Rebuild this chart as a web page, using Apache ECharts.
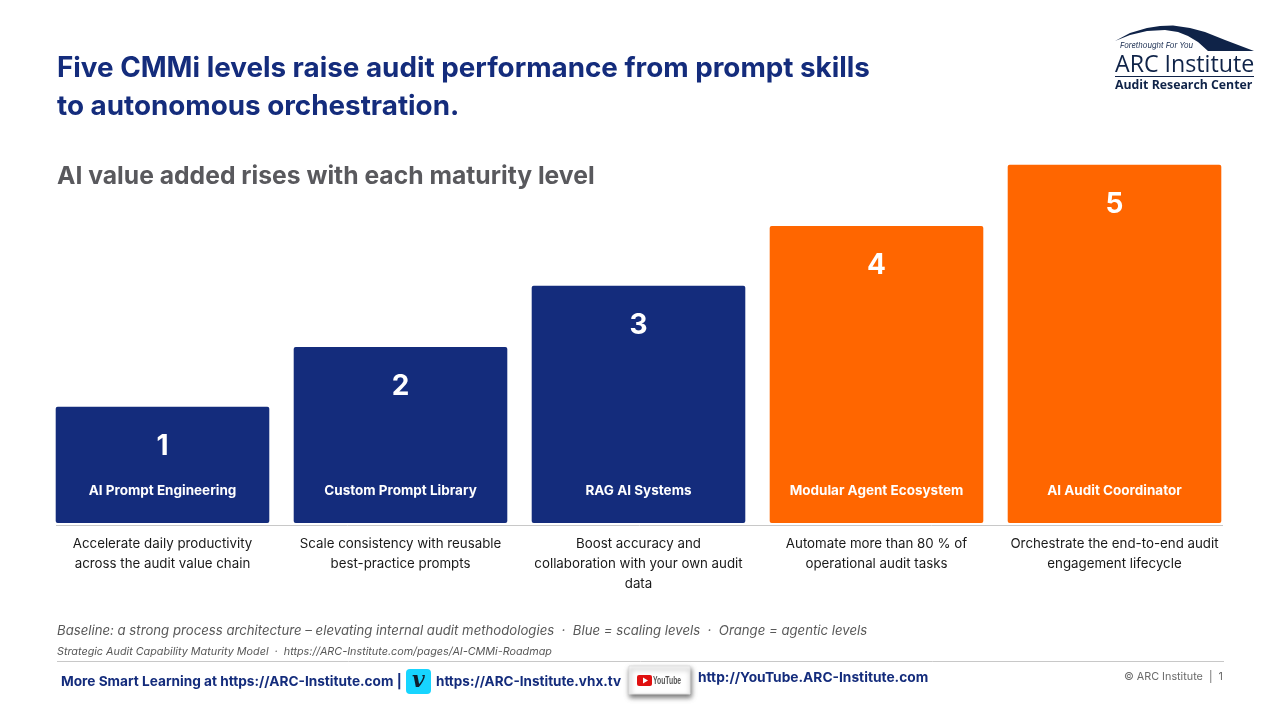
<!DOCTYPE html>
<html><head><meta charset="utf-8">
<style>html,body{margin:0;padding:0;background:#fff}#c{width:1280px;height:720px}</style>
<script src="https://cdn.jsdelivr.net/npm/echarts@6/dist/echarts.min.js"></script>
</head><body><div id="c"></div>
<script>
const levels = ['1','2','3','4','5'];
const levelNames = ['AI Prompt Engineering','Custom Prompt Library','RAG AI Systems','Modular Agent Ecosystem','AI Audit Coordinator'];
const descriptions = [
  'Accelerate daily productivity\nacross the audit value chain',
  'Scale consistency with reusable\nbest-practice prompts',
  'Boost accuracy and\ncollaboration with your own audit\ndata',
  'Automate more than 80 % of\noperational audit tasks',
  'Orchestrate the end-to-end audit\nengagement lifecycle'];
const values = [19.2, 29.1, 39.2, 49.1, 59.2];
const barColors = ['#142C7C','#142C7C','#142C7C','#FF6600','#FF6600'];
const F = 'Inter, "Open Sans", sans-serif';
const NAVY = '#142C7C', LOGO = '#0F2348';
const txt = (x,y,text,font,fill,align) => ({type:'text',x,y,style:{text,font,fill,align:align||'left',verticalAlign:'middle'},silent:true});
const chart = echarts.init(document.getElementById('c'),null,{renderer:'canvas'});
chart.setOption({
  animation:false, backgroundColor:'#fff',
  title:[
    {text:'Five CMMi levels raise audit performance from prompt skills\nto autonomous orchestration.',left:57,top:49,padding:0,
     textStyle:{fontFamily:F,fontSize:27.8,fontWeight:700,color:NAVY,lineHeight:38.5}},
    {text:'AI value added rises with each maturity level',left:57,top:164,padding:0,
     textStyle:{fontFamily:F,fontSize:24.7,fontWeight:700,color:'#59595D'}}
  ],
  grid:{left:43.5,right:46.5,top:160,height:363},
  xAxis:{type:'category',data:descriptions,axisTick:{show:false},axisLine:{show:false},
    axisLabel:{interval:0,margin:11,fontFamily:F,fontSize:13.3,color:'#1a1a1a',lineHeight:20,align:'center'}},
  yAxis:{type:'value',min:0,max:60,show:false,splitLine:{show:false}},
  series:[
    {type:'bar',barWidth:213.6,barGap:'-100%',
     data:values.map((v,i)=>({value:v,itemStyle:{color:barColors[i],borderRadius:2},
       label:{formatter:levels[i]}})),
     label:{show:true,position:'insideTop',distance:26,fontFamily:F,fontSize:28,fontWeight:700,color:'#fff'}},
    {type:'bar',barWidth:213.6,barGap:'-100%',itemStyle:{color:'rgba(0,0,0,0)'},
     data:values.map((v,i)=>({value:v,label:{formatter:levelNames[i]}})),
     label:{show:true,position:'insideBottom',distance:25,fontFamily:F,fontSize:13.5,fontWeight:700,color:'#fff'}}
  ],
  graphic:[
    {type:'line',shape:{x1:56,y1:525.5,x2:1223,y2:525.5},style:{stroke:'#c8c8c8',lineWidth:1},silent:true},
    txt(57,631,'Baseline: a strong process architecture – elevating internal audit methodologies  ·  Blue = scaling levels  ·  Orange = agentic levels','italic 13.2px '+F,'#595959'),
    txt(57,652,'Strategic Audit Capability Maturity Model  ·  https://ARC-Institute.com/pages/AI-CMMi-Roadmap','italic 10.8px '+F,'#595959'),
    {type:'line',shape:{x1:57,y1:661.5,x2:1224,y2:661.5},style:{stroke:'#c8c8c8',lineWidth:1},silent:true},
    txt(61,682,'More Smart Learning at https://ARC-Institute.com |','bold 13.65px '+F,NAVY),
    {type:'rect',shape:{x:406,y:669,width:25,height:25,r:4},style:{fill:'#17D5FF'},silent:true},
    txt(418.5,681,'v','italic bold 22px "DejaVu Serif", serif','#0F1F2E','center'),
    txt(436,682,'https://ARC-Institute.vhx.tv','bold 13.5px '+F,NAVY),
    {type:'rect',shape:{x:629,y:666,width:61,height:28},style:{fill:'#fff',stroke:'#e0e0e0',lineWidth:1,shadowBlur:5,shadowColor:'rgba(0,0,0,0.55)',shadowOffsetY:3,shadowOffsetX:1},silent:true},
    {type:'rect',shape:{x:637,y:675,width:15,height:11,r:2},style:{fill:'#E01010'},silent:true},
    {type:'polygon',shape:{points:[[643,677.5],[643,683.5],[648,680.5]]},style:{fill:'#fff'},silent:true},
    {type:'text',x:653,y:681,scaleX:0.62,style:{text:'YouTube',font:'bold 11px "Liberation Sans",sans-serif',fill:'#555',verticalAlign:'middle'},silent:true},
    txt(698,678,'http://YouTube.ARC-Institute.com','bold 13.75px '+F,NAVY),
    txt(1223,677,'© ARC Institute  |  1','10.8px '+F,'#6b6b6b','right'),
    // logo
    {type:'polygon',shape:{points:[[1115,41],[1130,33],[1147,28],[1160,26],[1173,25.5],[1190,28],[1205,32],[1225,40],[1254,51],[1208,51],[1198,42],[1188,36],[1178,32],[1165,30],[1147,31],[1130,35]]},style:{fill:LOGO},silent:true},
    txt(1120,46,'Forethought For You','italic 7.6px '+F,LOGO),
    txt(1115,65,'ARC Institute','23.2px "Open Sans", sans-serif',LOGO),
    {type:'line',shape:{x1:1115,y1:76.5,x2:1254,y2:76.5},style:{stroke:LOGO,lineWidth:1},silent:true},
    txt(1115,85,'Audit Research Center','bold 12.3px "Open Sans", sans-serif',LOGO)
  ]
});
</script></body></html>
